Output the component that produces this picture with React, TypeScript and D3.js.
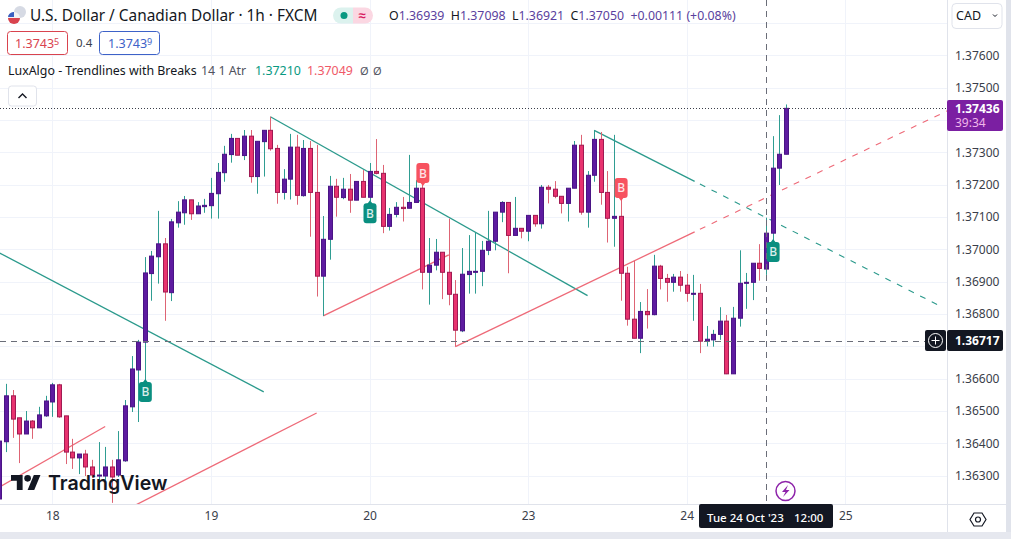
import React, {useEffect, useRef} from "react";
import * as d3 from "d3";

const WIDTH = 1011;
const HEIGHT = 539;
const PLOT_RIGHT = 947.5;
const PLOT_BOTTOM = 504.5;
const FONT = "'Noto Sans', sans-serif";

// hourly candles, first bar is 8 hours before the "18" tick
const firstIndex = -8;
const opens = [
	1.36228, 1.36405, 1.36547, 1.36479, 1.36429, 1.36469, 1.36448, 1.36485, 1.36528, 1.36581,
	1.36485, 1.36373, 1.36355, 1.36367, 1.36327, 1.36299, 1.36299, 1.36327, 1.36302, 1.36346,
	1.36513, 1.36627, 1.36713, 1.36925, 1.36977, 1.37017, 1.36866, 1.37082, 1.37113, 1.37153,
	1.3711, 1.37132, 1.37135, 1.37172, 1.37237, 1.37293, 1.37343, 1.3729, 1.3735, 1.37225,
	1.37333, 1.37368, 1.37312, 1.37176, 1.37217, 1.37316, 1.37166, 1.37312, 1.37176, 1.36917,
	1.37031, 1.37195, 1.3716, 1.37186, 1.37152, 1.3721, 1.37161, 1.37241, 1.37235, 1.37071,
	1.37108, 1.3713, 1.37127, 1.37145, 1.37189, 1.36929, 1.36951, 1.36991, 1.36929, 1.36861,
	1.36748, 1.36922, 1.3693, 1.36932, 1.36997, 1.37025, 1.37115, 1.37145, 1.37043, 1.37065,
	1.37056, 1.37105, 1.37079, 1.37192, 1.37186, 1.37164, 1.37142, 1.37189, 1.37322, 1.37115,
	1.37229, 1.3734, 1.37176, 1.37096, 1.37102, 1.36926, 1.36784, 1.36725, 1.36808, 1.36798,
	1.36948, 1.3691, 1.36898, 1.36914, 1.36889, 1.36862, 1.36864, 1.36716, 1.3672, 1.36737,
	1.36778, 1.36615, 1.36787, 1.36895, 1.36898, 1.36957, 1.36939, 1.3705, 1.37251, 1.37294,
];
const highs = [
	1.36429, 1.36584, 1.36565, 1.36479, 1.365, 1.36472, 1.36513, 1.36547, 1.36587, 1.36584,
	1.36485, 1.36414, 1.36367, 1.3638, 1.36349, 1.36404, 1.36389, 1.36349, 1.36438, 1.36534,
	1.3667, 1.3672, 1.36976, 1.36995, 1.37119, 1.37035, 1.37094, 1.37149, 1.37165, 1.37153,
	1.37146, 1.37156, 1.37221, 1.37267, 1.3732, 1.37357, 1.37343, 1.37369, 1.37369, 1.37334,
	1.37369, 1.3741, 1.37323, 1.37248, 1.37357, 1.37354, 1.37338, 1.37335, 1.37323, 1.37103,
	1.37227, 1.37218, 1.37221, 1.37233, 1.3721, 1.37245, 1.37267, 1.37341, 1.37261, 1.37128,
	1.37146, 1.37162, 1.37292, 1.37214, 1.37205, 1.37035, 1.37032, 1.36991, 1.37095, 1.36905,
	1.37004, 1.37044, 1.37051, 1.37026, 1.37119, 1.37115, 1.37149, 1.37145, 1.37162, 1.37065,
	1.37105, 1.37105, 1.37199, 1.37199, 1.37211, 1.37164, 1.37189, 1.37335, 1.37354, 1.37242,
	1.37369, 1.37363, 1.37242, 1.37354, 1.37159, 1.36946, 1.36964, 1.36837, 1.36877, 1.36983,
	1.36952, 1.36924, 1.36924, 1.36933, 1.36924, 1.36921, 1.36893, 1.36763, 1.36751, 1.36821,
	1.36797, 1.36822, 1.36997, 1.36927, 1.36957, 1.37016, 1.37098, 1.3735, 1.37415, 1.37448,
];
const lows = [
	1.36216, 1.36373, 1.36417, 1.36339, 1.36429, 1.36414, 1.36448, 1.36482, 1.36482, 1.36479,
	1.36336, 1.36321, 1.36305, 1.36299, 1.36293, 1.36256, 1.36287, 1.36216, 1.36296, 1.36343,
	1.36497, 1.36466, 1.36596, 1.36841, 1.36894, 1.36779, 1.3684, 1.37067, 1.37076, 1.37091,
	1.3711, 1.37113, 1.37095, 1.37095, 1.37209, 1.37268, 1.37291, 1.37276, 1.37206, 1.37172,
	1.37225, 1.37305, 1.37141, 1.37154, 1.37154, 1.37138, 1.37163, 1.37039, 1.36854, 1.36794,
	1.36968, 1.37101, 1.37155, 1.37113, 1.37152, 1.37161, 1.37149, 1.37232, 1.3705, 1.37058,
	1.37099, 1.37086, 1.37127, 1.37145, 1.36876, 1.36829, 1.36935, 1.36846, 1.36827, 1.36699,
	1.36744, 1.36863, 1.36863, 1.36886, 1.36982, 1.36997, 1.37084, 1.36926, 1.37043, 1.37034,
	1.37025, 1.3707, 1.37064, 1.37142, 1.37158, 1.37111, 1.37086, 1.37189, 1.37107, 1.37067,
	1.37209, 1.37138, 1.37021, 1.37008, 1.36841, 1.36764, 1.36725, 1.36679, 1.36755, 1.36796,
	1.36876, 1.36838, 1.36869, 1.36869, 1.36838, 1.36779, 1.36679, 1.367, 1.36699, 1.3672,
	1.36614, 1.36615, 1.36761, 1.36816, 1.36843, 1.36903, 1.36921, 1.37029, 1.37199, 1.37294,
];
const closes = [
	1.36407, 1.36547, 1.36475, 1.36429, 1.36469, 1.36448, 1.36488, 1.36531, 1.36581, 1.36482,
	1.36373, 1.36355, 1.36367, 1.36327, 1.36302, 1.36302, 1.36327, 1.36296, 1.36349, 1.36516,
	1.3663, 1.36713, 1.36927, 1.36979, 1.37017, 1.36868, 1.37085, 1.37115, 1.37153, 1.3711,
	1.37134, 1.37136, 1.37173, 1.37238, 1.37294, 1.37343, 1.37291, 1.3735, 1.37225, 1.37334,
	1.37368, 1.37311, 1.37176, 1.37217, 1.37316, 1.37167, 1.37312, 1.37176, 1.36917, 1.37031,
	1.37195, 1.37161, 1.37186, 1.37152, 1.3721, 1.37161, 1.37241, 1.37235, 1.37071, 1.37108,
	1.3713, 1.37126, 1.37145, 1.37189, 1.36929, 1.36951, 1.36991, 1.36929, 1.36861, 1.3675,
	1.36923, 1.36932, 1.36932, 1.36997, 1.37025, 1.37115, 1.37145, 1.37043, 1.37065, 1.37056,
	1.37105, 1.37079, 1.37192, 1.37186, 1.37164, 1.37142, 1.37189, 1.37322, 1.37115, 1.37229,
	1.3734, 1.37176, 1.37096, 1.37102, 1.36926, 1.36784, 1.36725, 1.36808, 1.36798, 1.36948,
	1.3691, 1.36898, 1.36914, 1.36889, 1.36864, 1.36864, 1.36716, 1.36722, 1.36737, 1.36778,
	1.36615, 1.36787, 1.36895, 1.36898, 1.36957, 1.36941, 1.3705, 1.37251, 1.37294, 1.37436,
];

const priceTicks = [1.376, 1.375, 1.373, 1.372, 1.371, 1.37, 1.369, 1.368, 1.366, 1.365, 1.364, 1.363];
const gridPrices = [1.377, 1.376, 1.375, 1.374, 1.373, 1.372, 1.371, 1.37, 1.369, 1.368, 1.367, 1.366, 1.365, 1.364, 1.363];
const dayIndexes = [0, 24, 48, 72, 96, 120];
const dayLabels = ["18", "19", "20", "23", "24", "25"];

const lastPrice = 1.37436;
const crosshairPrice = 1.36717;
const crosshairIndex = 108;

// [bar index, price] pairs of the LuxAlgo lines
const tealTrends = [
	[[-8, 1.36989], [32, 1.36559]],
	[[33, 1.3741], [81, 1.36857]],
	[[82, 1.37368], [97.2, 1.3721]],
];
const redTrends = [
	[[-8, 1.36265], [8, 1.36452]],
	[[12, 1.36203], [40, 1.36494]],
	[[41, 1.36794], [60, 1.36983]],
	[[61, 1.36699], [97.2, 1.37054]],
];
const tealExtension = [[98, 1.37202], [134.6, 1.36822]];
const redExtension = [[98, 1.37062], [135.4, 1.37428]];

const upBreaks = [14, 48, 109];
const downBreaks = [56, 86];

const xScale = d3.scaleLinear().domain([0, 120]).range([52.3, 845.3]);
const yScale = d3.scaleLinear().domain([1.376, 1.363]).range([55.3, 475.7]);

const UP_FILL = "#5e1ba0";
const UP_EDGE = "#4a1485";
const DOWN_FILL = "#e8336f";
const DOWN_EDGE = "#a01a52";
const UP_WICK = "#2f9d92";
const DOWN_WICK = "#de6474";
const TEAL_LINE = "#2b9a8c";
const RED_LINE = "#ee6a78";
const TEAL_BUBBLE = "#0a8f80";
const TEXT = "#131722";
const OHLC = "#5a3f9e";

const App: React.FC = () => {
	const yAxisRef = useRef<SVGGElement>(null);
	const xAxisRef = useRef<SVGGElement>(null);

	useEffect(() => {
		const yAxis = d3
			.axisRight(yScale)
			.tickValues(priceTicks)
			.tickSize(0)
			.tickPadding(0)
			.tickFormat((d) => d3.format(".5f")(d as number));
		const yG = d3.select(yAxisRef.current).call(yAxis as any);
		yG.select(".domain").remove();
		yG.selectAll("text")
			.attr("fill", "#3a3e4a")
			.style("font-family", FONT)
			.style("font-size", "12px");

		const xAxis = d3
			.axisBottom(xScale)
			.tickValues(dayIndexes)
			.tickSize(0)
			.tickPadding(0)
			.tickFormat((_, i) => dayLabels[i]);
		const xG = d3.select(xAxisRef.current).call(xAxis as any);
		xG.select(".domain").remove();
		xG.selectAll("text")
			.attr("fill", "#3a3e4a")
			.style("font-family", FONT)
			.style("font-size", "12px");
	}, []);

	const line = d3
		.line<number[]>()
		.x((d) => xScale(d[0]))
		.y((d) => yScale(d[1]));

	const candles = opens.map((o, k) => {
		const i = k + firstIndex;
		const c = closes[k];
		const up = c >= o;
		const x = Math.round(xScale(i));
		const top = yScale(Math.max(o, c));
		const bottom = yScale(Math.min(o, c));
		return (
			<g key={i}>
				<line
					x1={x + 0.5}
					x2={x + 0.5}
					y1={yScale(highs[k])}
					y2={yScale(lows[k])}
					stroke={up ? UP_WICK : DOWN_WICK}
				/>
				<rect
					x={x - 1.5}
					y={top}
					width={4}
					height={Math.max(bottom - top, 1)}
					fill={up ? UP_FILL : DOWN_FILL}
					stroke={up ? UP_EDGE : DOWN_EDGE}
				/>
			</g>
		);
	});

	const breakLabel = (i: number, up: boolean) => {
		const k = i - firstIndex;
		const x = xScale(i) + 0.5;
		const boxTop = up ? yScale(lows[k]) + 2 : yScale(highs[k]) - 20;
		const tipY = up ? boxTop - 3 : boxTop + 23;
		const fill = up ? TEAL_BUBBLE : "#f7525f";
		return (
			<g key={`${i}-${up}`}>
				<path d={`M${x - 3},${up ? boxTop + 1 : boxTop + 19} L${x},${tipY} L${x + 3},${up ? boxTop + 1 : boxTop + 19} Z`} fill={fill} />
				<rect x={x - 6.5} y={boxTop} width={13} height={20} rx={3} fill={fill} />
				<text
					x={x}
					y={boxTop + 14.5}
					textAnchor="middle"
					fill="#fff"
					opacity={0.85}
					style={{fontFamily: FONT, fontSize: 12, fontWeight: 500}}
				>
					B
				</text>
			</g>
		);
	};

	const crossY = Math.round(yScale(crosshairPrice)) + 0.5;
	const crossX = Math.round(xScale(crosshairIndex)) + 0.5;
	const lastY = Math.round(yScale(lastPrice)) + 0.5;

	return (
		<svg
			width={WIDTH}
			height={HEIGHT}
			style={{position: "absolute", left: 0, top: 0, display: "block", background: "#fff"}}
		>
			<defs>
				<clipPath id="plot">
					<rect x={0} y={0} width={PLOT_RIGHT} height={PLOT_BOTTOM} />
				</clipPath>
			</defs>

			{/* grid */}
			<g stroke="#f0f3fa">
				{gridPrices.map((p) => (
					<line key={p} x1={0} x2={PLOT_RIGHT} y1={Math.round(yScale(p)) + 0.5} y2={Math.round(yScale(p)) + 0.5} />
				))}
				{dayIndexes.map((d) => (
					<line key={d} x1={Math.round(xScale(d)) + 0.5} x2={Math.round(xScale(d)) + 0.5} y1={0} y2={PLOT_BOTTOM} />
				))}
			</g>

			<g clipPath="url(#plot)">
				{/* trendlines */}
				<g fill="none" strokeWidth={1.3}>
					{tealTrends.map((t, i) => (
						<path key={i} d={line(t) || ""} stroke={TEAL_LINE} />
					))}
					{redTrends.map((t, i) => (
						<path key={i} d={line(t) || ""} stroke={RED_LINE} />
					))}
					<path d={line(tealExtension) || ""} stroke={TEAL_LINE} strokeWidth={1.1} strokeDasharray="6 7" />
					<path d={line(redExtension) || ""} stroke={RED_LINE} strokeWidth={1.1} strokeDasharray="6 7" />
				</g>

				{candles}

				{upBreaks.map((i) => breakLabel(i, true))}
				{downBreaks.map((i) => breakLabel(i, false))}

				{/* last price and crosshair */}
				<line x1={0} x2={PLOT_RIGHT} y1={lastY} y2={lastY} stroke="#3a3e4a" strokeDasharray="1 2" />
				<line x1={0} x2={925} y1={crossY} y2={crossY} stroke="#6a6d78" strokeDasharray="6 5" />
				<line x1={crossX} x2={crossX} y1={0} y2={PLOT_BOTTOM} stroke="#6a6d78" strokeDasharray="6 5" />
			</g>

			{/* watermark */}
			<g transform="translate(11,471.7) scale(0.83)" fill="#131722">
				<path d="M14 22H7V11H0V4h14v18zM28 22h-8l7.5-18h8L28 22z" />
				<circle cx={20} cy={8} r={4} />
			</g>
			<text x={48} y={490} fill="#131722" style={{fontFamily: "Inter, sans-serif", fontSize: 19.6, fontWeight: 600}}>
				TradingView
			</text>

			{/* lightning */}
			<circle cx={785.5} cy={491} r={9.5} fill="#fff" stroke="#8e24aa" strokeWidth={1.5} />
			<path d="M788,485 L782,492 L785.5,492 L783,497 L789.5,490 L786,490 Z" fill="#8e24aa" />

			{/* axis frames */}
			<rect x={PLOT_RIGHT} y={0} width={WIDTH - PLOT_RIGHT} height={HEIGHT} fill="#fff" />
			<rect x={0} y={PLOT_BOTTOM} width={WIDTH} height={HEIGHT - PLOT_BOTTOM} fill="#fff" />
			<line x1={PLOT_RIGHT} x2={PLOT_RIGHT} y1={0} y2={532} stroke="#e0e3eb" />
			<line x1={0} x2={1006} y1={PLOT_BOTTOM} y2={PLOT_BOTTOM} stroke="#e0e3eb" />
			<rect x={1006} y={0} width={5} height={HEIGHT} fill="#e0e3eb" />
			<rect x={0} y={532} width={WIDTH} height={7} fill="#e6e8ef" />

			<g ref={yAxisRef} transform="translate(955,0)" />
			<g ref={xAxisRef} transform="translate(0,511)" />

			{/* last price label */}
			<rect x={947} y={100} width={56} height={31} rx={2} fill="#7b1fa2" />
			<text x={955} y={112.5} fill="#fff" style={{fontFamily: FONT, fontSize: 12, fontWeight: 700}}>
				1.37436
			</text>
			<text x={955} y={127} fill="#f0b6ea" style={{fontFamily: FONT, fontSize: 12}}>
				39:34
			</text>

			{/* crosshair labels */}
			<rect x={925} y={330} width={21} height={21} rx={2} fill="#131722" />
			<circle cx={935.5} cy={340.5} r={7} fill="none" stroke="#fff" />
			<path d="M935.5,336.5V344.5M931.5,340.5H939.5" stroke="#fff" />
			<rect x={947} y={330} width={56} height={21} rx={2} fill="#131722" />
			<text x={955} y={345} fill="#fff" style={{fontFamily: FONT, fontSize: 12, fontWeight: 700}}>
				1.36717
			</text>
			<rect x={699} y={504} width={134} height={24} rx={2} fill="#131722" />
			<text x={707} y={522} fill="#fff" style={{fontFamily: FONT, fontSize: 11.5, fontWeight: 500}}>
				Tue 24 Oct '23
			</text>
			<text x={794} y={522} fill="#fff" style={{fontFamily: FONT, fontSize: 11.5, fontWeight: 500}}>
				12:00
			</text>

			{/* settings */}
			<path d="M974,513 L982,513 L986,519.5 L982,526 L974,526 L970,519.5 Z" fill="none" stroke="#131722" strokeWidth={1.2} />
			<circle cx={978} cy={519.5} r={2.5} fill="none" stroke="#131722" strokeWidth={1.2} />

			{/* currency button */}
			<rect x={952} y={3.5} width={50} height={25} rx={4} fill="#fff" stroke="#e0e3eb" />
			<text x={956} y={20} fill={TEXT} style={{fontFamily: FONT, fontSize: 12.5}}>
				CAD
			</text>
			<path d="M993,14.5 L995,16.5 L997,14.5" fill="none" stroke={TEXT} />

			{/* header */}
			<circle cx={20} cy={12} r={6} fill="#d6dae4" />
			<circle cx={14} cy={18} r={6} fill="#f2f2f2" />
			<path d="M8,18 a6,6 0 0 0 12,0 Z" fill="#d9434e" />
			<path d="M8.4,15.5 a6,6 0 0 1 5.6,-3.5 v5 h-6 Z" fill="#3a5fc0" />
			<text x={30} y={21} fill={TEXT} style={{fontFamily: FONT, fontSize: 15.4}}>
				U.S. Dollar / Canadian Dollar · 1h · FXCM
			</text>

			<path d="M353,7.5 h-12 a8,8 0 0 0 0,16 h12 Z" fill="#dcf2ee" />
			<path d="M353,7.5 h12 a8,8 0 0 1 0,16 h-12 Z" fill="#fbd7e2" />
			<circle cx={344} cy={15.5} r={3.5} fill="#089981" />
			<text x={362} y={20} textAnchor="middle" fill="#d81b60" style={{fontFamily: FONT, fontSize: 13, fontWeight: 700}}>
				≈
			</text>

			<text x={389} y={20} style={{fontFamily: FONT, fontSize: 12.35}} fill={OHLC} xmlSpace="preserve">
				<tspan fill={TEXT}>O</tspan>1.36939{"  "}
				<tspan fill={TEXT}>H</tspan>1.37098{"  "}
				<tspan fill={TEXT}>L</tspan>1.36921{"  "}
				<tspan fill={TEXT}>C</tspan>1.37050{"  "}+0.00111 (+0.08%)
			</text>

			<rect x={7.5} y={31.5} width={60} height={23} rx={3} fill="#fff" stroke="#d9434e" />
			<text x={15} y={47.5} fill="#d9434e" style={{fontFamily: FONT, fontSize: 12.5}}>
				1.3743<tspan fontSize={9} dy={-3}>5</tspan>
			</text>
			<text x={76} y={47} fill="#3a3e4a" style={{fontFamily: FONT, fontSize: 11.5}}>
				0.4
			</text>
			<rect x={99.5} y={31.5} width={60} height={23} rx={3} fill="#fff" stroke="#3d62c8" />
			<text x={108} y={47.5} fill="#3d62c8" style={{fontFamily: FONT, fontSize: 12.5}}>
				1.3743<tspan fontSize={9} dy={-3}>9</tspan>
			</text>

			<text x={8} y={75} fill={TEXT} style={{fontFamily: FONT, fontSize: 12.4}}>
				LuxAlgo - Trendlines with Breaks
			</text>
			<text x={201} y={75} fill="#50535e" style={{fontFamily: FONT, fontSize: 12.4}}>
				14 1 Atr
			</text>
			<text x={255} y={75} fill="#089981" style={{fontFamily: FONT, fontSize: 12.4}}>
				1.37210
			</text>
			<text x={307} y={75} fill="#f05a68" style={{fontFamily: FONT, fontSize: 12.4}}>
				1.37049
			</text>
			<text x={360} y={75} fill="#50535e" style={{fontFamily: FONT, fontSize: 11}}>
				Ø
			</text>
			<text x={373} y={75} fill="#50535e" style={{fontFamily: FONT, fontSize: 11}}>
				Ø
			</text>

			<rect x={8.5} y={86} width={28} height={20} rx={3} fill="#fff" stroke="#e0e3eb" />
			<path d="M18.5,98 L22.5,94 L26.5,98" fill="none" stroke={TEXT} strokeWidth={1.4} />
		</svg>
	);
};

export default App;
